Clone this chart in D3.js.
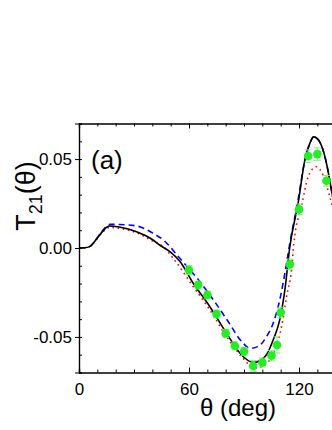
<!DOCTYPE html>
<html>
<head>
<meta charset="utf-8">
<script src="https://cdn.jsdelivr.net/npm/d3@7"></script>
<style>
  body { margin: 0; background: #fff; }
  svg { display: block; }
  text { font-family: "Liberation Sans", Arial, sans-serif; fill: #000; }
</style>
</head>
<body>
<script>
// curves: theta in degrees, T21 value
var solidTheta = [0, 3, 6, 8, 10.5, 13, 16.5, 22, 31.4, 40, 44, 49.6, 55, 62.3, 71.4, 80.5, 89.5, 95.2, 98.5, 102.3, 105.9, 109.5, 112.3, 115, 119.5, 123.2, 125.9, 128, 131.3, 135, 137.7, 141];
var solidT21 = [0, 0.0001, 0.0009, 0.0030, 0.0063, 0.0095, 0.0124, 0.0118, 0.0092, 0.0048, 0.0017, -0.0021, -0.0075, -0.0198, -0.0330, -0.0480, -0.0610, -0.0644, -0.0634, -0.0600, -0.0517, -0.0404, -0.0236, 0.0007, 0.0251, 0.0494, 0.0588, 0.0625, 0.0597, 0.0476, 0.0326, 0.0130];

var dashTheta = [0, 3, 6, 8, 10.5, 13, 16.9, 22, 31.4, 40, 46, 55, 66, 73.2, 80.5, 89.5, 93.2, 97.7, 102.3, 105.9, 109.5, 112.3, 115, 119.5, 123.2, 125.9, 128, 131.3, 135, 137.7, 141];
var dashT21 = [0, 0.0001, 0.0009, 0.0030, 0.0065, 0.0100, 0.0133, 0.0132, 0.0124, 0.0085, 0.0045, -0.0058, -0.0190, -0.0290, -0.0400, -0.0535, -0.0564, -0.0554, -0.0498, -0.0423, -0.0292, -0.0142, 0.0026, 0.0270, 0.0494, 0.0588, 0.0625, 0.0597, 0.0476, 0.0326, 0.0130];

var dotTheta = [0, 3, 6, 8, 10.5, 13, 16.9, 22, 31.4, 40, 46, 51.4, 62.3, 71.4, 80.5, 89.5, 96, 100, 104, 107.7, 110.5, 113.2, 115.9, 117.2, 121.3, 125, 127.7, 129.5, 133.1, 136.8, 141];
var dotT21 = [0, 0.0001, 0.0009, 0.0029, 0.0060, 0.0090, 0.0116, 0.0110, 0.0086, 0.0040, 0.0007, -0.0058, -0.0217, -0.0348, -0.0498, -0.0620, -0.0676, -0.0665, -0.0630, -0.0554, -0.0442, -0.0274, -0.0124, 0.0026, 0.0232, 0.0400, 0.0448, 0.0457, 0.0410, 0.0288, 0.0120];

// measured points with error bars
var dataTheta = [60, 65, 70, 75, 80, 85, 90, 95, 100, 105, 108, 110, 115, 120, 125, 130, 135];
var dataT21 = [-0.0124, -0.0208, -0.0264, -0.0371, -0.0480, -0.0550, -0.0582, -0.0663, -0.0644, -0.0605, -0.0545, -0.0363, -0.0092, 0.0217, 0.0517, 0.0528, 0.0378];
var dataErr = [0.0025, 0.0022, 0.0022, 0.0022, 0.0022, 0.0022, 0.0022, 0.0030, 0.0025, 0.0030, 0.0045, 0.0030, 0.0030, 0.0030, 0.0035, 0.0035, 0.0030];

var xTicks = [0, 60, 120];
var yTicks = [-0.05, 0.00, 0.05];

var W = 332, H = 430;
var margin = {top: 123.5, left: 79};
var plotW = 330, plotH = 249;

var svg = d3.select("body").append("svg")
    .attr("width", W)
    .attr("height", H);

var x = d3.scaleLinear().domain([0, 180]).range([margin.left, margin.left + plotW]);
var y = d3.scaleLinear().domain([-0.07, 0.07]).range([margin.top + plotH, margin.top]);

// clip the curves to the plot frame
svg.append("clipPath").attr("id", "clip")
  .append("rect")
    .attr("x", margin.left).attr("y", margin.top)
    .attr("width", plotW).attr("height", plotH);

var plot = svg.append("g").attr("clip-path", "url(#clip)");

function series(th, v) {
  return th.map(function(d, i) { return {t: d, v: v[i]}; });
}

var line = d3.line()
    .x(function(d) { return x(d.t); })
    .y(function(d) { return y(d.v); })
    .curve(d3.curveMonotoneX);

plot.append("path")
    .datum(series(dotTheta, dotT21))
    .attr("d", line)
    .attr("fill", "none")
    .attr("stroke", "#ff0000")
    .attr("stroke-width", 1.6)
    .attr("stroke-dasharray", "1.6,3.6");

plot.append("path")
    .datum(series(dashTheta, dashT21))
    .attr("d", line)
    .attr("fill", "none")
    .attr("stroke", "#0000ff")
    .attr("stroke-width", 1.6)
    .attr("stroke-dasharray", "6,4");

plot.append("path")
    .datum(series(solidTheta, solidT21))
    .attr("d", line)
    .attr("fill", "none")
    .attr("stroke", "#000")
    .attr("stroke-width", 1.6);

// error bars and points
var pts = dataTheta.map(function(d, i) { return {t: d, v: dataT21[i], e: dataErr[i]}; });

var eb = plot.selectAll(".err").data(pts).enter().append("g").attr("class", "err")
    .attr("stroke", "#7cf07c").attr("stroke-width", 1);
eb.append("line")
    .attr("x1", function(d) { return x(d.t); }).attr("x2", function(d) { return x(d.t); })
    .attr("y1", function(d) { return y(d.v - d.e); }).attr("y2", function(d) { return y(d.v + d.e); });
eb.append("line")
    .attr("x1", function(d) { return x(d.t) - 3.5; }).attr("x2", function(d) { return x(d.t) + 3.5; })
    .attr("y1", function(d) { return y(d.v - d.e); }).attr("y2", function(d) { return y(d.v - d.e); });
eb.append("line")
    .attr("x1", function(d) { return x(d.t) - 3.5; }).attr("x2", function(d) { return x(d.t) + 3.5; })
    .attr("y1", function(d) { return y(d.v + d.e); }).attr("y2", function(d) { return y(d.v + d.e); });

plot.selectAll(".pt").data(pts).enter().append("circle")
    .attr("class", "pt")
    .attr("cx", function(d) { return x(d.t); })
    .attr("cy", function(d) { return y(d.v); })
    .attr("r", 4.3)
    .attr("fill", "#22ee22");

// axes: ticks point inward, minor every 10 deg / 0.01
var xMinor = d3.range(0, 181, 10);
var yMinor = d3.range(-7, 8).map(function(d) { return d / 100; });
var fmtY = function(d) { return d3.format(".2f")(d).replace("\u2212", "-"); };

svg.append("g")
    .attr("transform", "translate(0," + (margin.top + plotH) + ")")
    .call(d3.axisBottom(x).tickValues(xMinor).tickSize(-3).tickFormat(""));
svg.append("g")
    .attr("transform", "translate(0," + (margin.top + plotH) + ")")
    .call(d3.axisBottom(x).tickValues(xTicks).tickSize(-5).tickPadding(10).tickFormat(d3.format("d")));

svg.append("g")
    .attr("transform", "translate(0," + margin.top + ")")
    .call(d3.axisTop(x).tickValues(xMinor).tickSize(-3).tickFormat(""));
svg.append("g")
    .attr("transform", "translate(0," + margin.top + ")")
    .call(d3.axisTop(x).tickValues(xTicks).tickSize(-5).tickFormat(""));

svg.append("g")
    .attr("transform", "translate(" + margin.left + ",0)")
    .call(d3.axisLeft(y).tickValues(yMinor).tickSize(-3).tickFormat(""));
svg.append("g")
    .attr("transform", "translate(" + margin.left + ",0)")
    .call(d3.axisLeft(y).tickValues(yTicks).tickSize(4).tickPadding(3).tickFormat(fmtY));

svg.selectAll(".domain").attr("stroke", "#000").attr("stroke-width", 1.2);
svg.selectAll(".tick line").attr("stroke", "#000").attr("stroke-width", 1);
svg.selectAll(".tick text")
    .style("font-family", "'Liberation Sans', Arial, sans-serif")
    .style("font-size", "17px");

// labels
svg.append("text")
    .attr("x", 91).attr("y", 169)
    .style("font-size", "26px")
    .text("(a)");

svg.append("text")
    .attr("x", 238).attr("y", 416)
    .attr("text-anchor", "middle")
    .style("font-size", "24px")
    .text("θ (deg)");

var yl = svg.append("text")
    .attr("transform", "translate(35,196) rotate(-90)")
    .attr("text-anchor", "middle")
    .style("font-size", "27px");
yl.append("tspan").text("T");
yl.append("tspan").attr("dy", 7).style("font-size", "18px").text("21");
yl.append("tspan").attr("dy", -7).text("(θ)");
</script>
</body>
</html>
